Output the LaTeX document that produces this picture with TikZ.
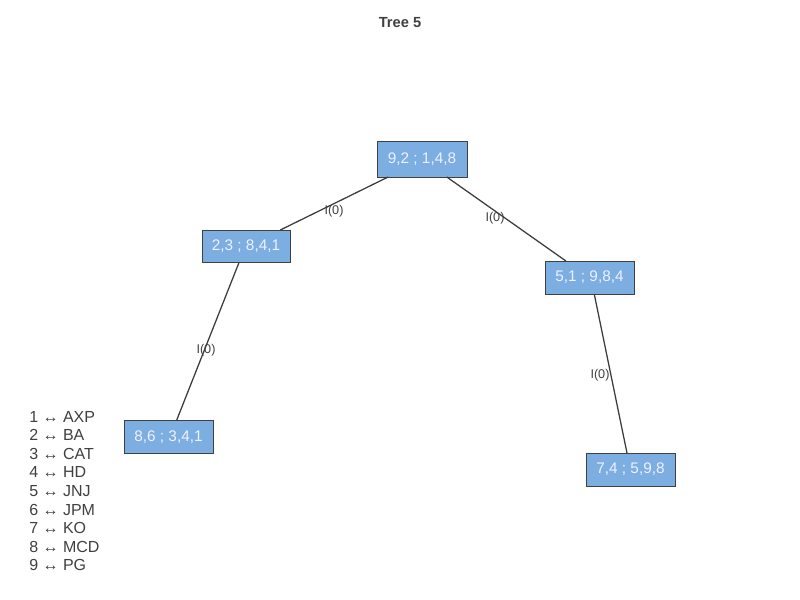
\documentclass[tikz,border=0pt]{standalone}
\usepackage{fontspec}
\setmainfont{Liberation Sans}
\begin{document}
\definecolor{boxfill}{RGB}{124,174,226}
\definecolor{ink}{RGB}{64,64,64}
\definecolor{edgeink}{RGB}{60,60,60}
\begin{tikzpicture}[x=0.75pt,y=-0.75pt,
  treebox/.style={draw=ink, line width=0.6pt, fill=boxfill, text=white!94!blue,
    inner sep=0pt, outer sep=0pt, minimum width=66.75pt, minimum height=24.75pt,
    font=\fontsize{11.5}{13}\selectfont},
  branch/.style={draw=edgeink, line width=0.95pt},
  branchlabel/.style={text=ink, inner sep=0pt, font=\fontsize{9.5}{10}\selectfont},
  legendline/.style={text=ink, anchor=base west, inner sep=0pt, font=\fontsize{12}{14}\selectfont}]
  \useasboundingbox (0,0) rectangle (800,600);

  % title
  \node[anchor=base, inner sep=0pt, text=ink, font=\fontsize{11}{13}\bfseries\selectfont] (title) at (400,27) {Tree 5};

  % tree nodes
  \node[treebox, minimum width=67.5pt, minimum height=27pt] (root) at (422,159) {9,2 ; 1,4,8};
  \node[treebox, minimum width=66pt, minimum height=24pt] (left) at (246,246) {2,3 ; 8,4,1};
  \node[treebox] (right) at (589.5,277.5) {5,1 ; 9,8,4};
  \node[treebox] (leftleaf) at (168.5,437) {8,6 ; 3,4,1};
  \node[treebox] (rightleaf) at (630.5,469.5) {7,4 ; 5,9,8};

  % branches
  \draw[branch] (root.208.6) -- (left.25.9);
  \draw[branch] (root.-36.9) -- (right.145.4);
  \draw[branch] (left.-113.6) -- (leftleaf.64.9);
  \draw[branch] (right.-74.7) -- (rightleaf.102);

  % branch labels
  \node[branchlabel] (lab1) at (334,211) {I(0)};
  \node[branchlabel] (lab2) at (495,218) {I(0)};
  \node[branchlabel] (lab3) at (206,350) {I(0)};
  \node[branchlabel] (lab4) at (600,375) {I(0)};

  % legend
  \foreach \i/\name [count=\k from 0] in {1/AXP,2/BA,3/CAT,4/HD,5/JNJ,6/JPM,7/KO,8/MCD,9/PG}
    \node[legendline] (leg\i) at (29,422+\k*18.6) {\i\ ↔ \name};
\end{tikzpicture}
\end{document}
